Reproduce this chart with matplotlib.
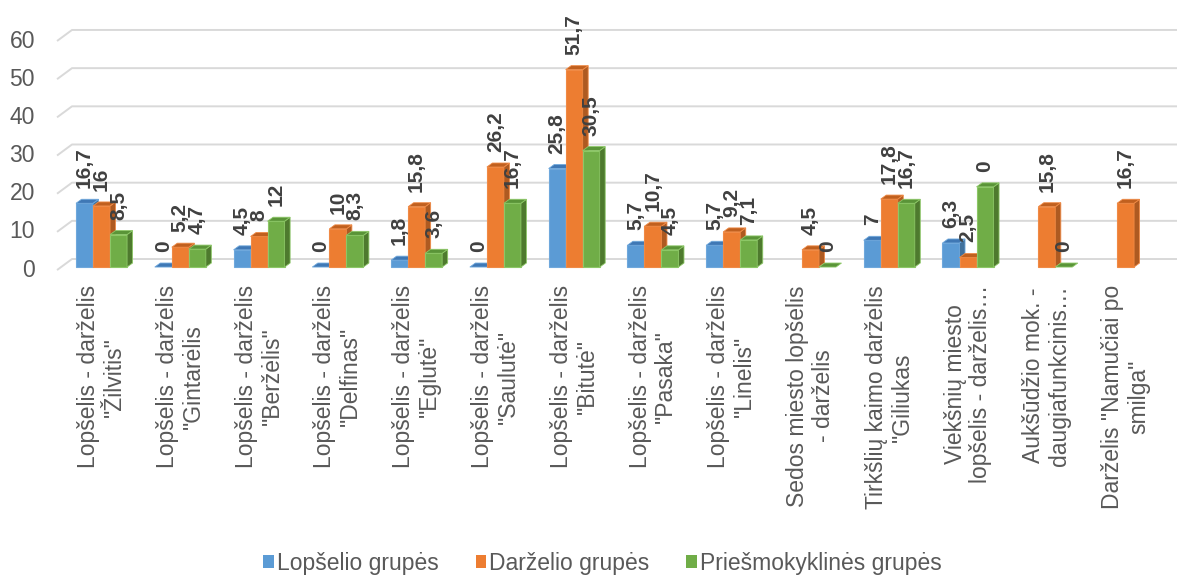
import numpy as np
import matplotlib
matplotlib.use("Agg")
import matplotlib.pyplot as plt
from matplotlib.patches import Polygon, Patch

plt.rcParams["font.family"] = ["Liberation Sans", "DejaVu Sans"]

categories = [
    'Lopšelis - darželis\n"Žilvitis"',
    'Lopšelis - darželis\n"Gintarėlis',
    'Lopšelis - darželis\n"Beržėlis"',
    'Lopšelis - darželis\n"Delfinas"',
    'Lopšelis - darželis\n"Eglutė"',
    'Lopšelis - darželis\n"Saulutė"',
    'Lopšelis - darželis\n"Bitutė"',
    'Lopšelis - darželis\n"Pasaka"',
    'Lopšelis - darželis\n"Linelis"',
    'Sedos miesto lopšelis\n- darželis',
    'Tirkšlių kaimo darželis\n"Giliukas',
    'Viekšnių miesto\nlopšelis - darželis…',
    'Aukšūdžio mok. -\ndaugiafunkcinis…',
    'Darželis "Namučiai po\nsmilga"',
]
nan = np.nan
lopselio = [16.7, 0, 4.5, 0, 1.8, 0, 25.8, 5.7, 5.7, nan, 7, 6.3, nan, nan]
darzelio = [16, 5.2, 8, 10, 15.8, 26.2, 51.7, 10.7, 9.2, 4.5, 17.8, 2.5, 15.8, 16.7]
priesm = [8.5, 4.7, 12, 8.3, 3.6, 16.7, 30.5, 4.5, 7.1, 0, 16.7, 21, 0, nan]

lopselio_labels = ["16,7", "0", "4,5", "0", "1,8", "0", "25,8", "5,7", "5,7", "", "7", "6,3", "", ""]
darzelio_labels = ["16", "5,2", "8", "10", "15,8", "26,2", "51,7", "10,7", "9,2", "4,5", "17,8", "2,5", "15,8", "16,7"]
priesm_labels = ["8,5", "4,7", "12", "8,3", "3,6", "16,7", "30,5", "4,5", "7,1", "0", "16,7", "0", "0", ""]

series_names = ["Lopšelio grupės", "Darželio grupės", "Priešmokyklinės grupės"]
y_ticks = [0, 10, 20, 30, 40, 50, 60]

# front / top / side colours of the fake 3d columns
colors = [("#5B9BD5", "#3F78B5", "#41719C"),
          ("#ED7D31", "#C0601F", "#AE5A21"),
          ("#70AD47", "#5A9438", "#4E7A2E")]
edges = ["#6FA8DC", "#F08A45", "#8CC766"]

TEXT = "#595959"
LABEL = "#404040"
GRID = "#D9D9D9"

width = 0.216
depth_x = 0.07
depth_y = 1.05


def draw_column(ax, x0, h, cols, edge):
    front, top, side = cols
    if h > 0:
        ax.add_patch(Polygon([(x0, 0), (x0 + width, 0), (x0 + width, h), (x0, h)],
                             closed=True, facecolor=front, edgecolor=edge, lw=0.8, zorder=3))
        ax.add_patch(Polygon([(x0 + width, 0), (x0 + width + depth_x, depth_y),
                              (x0 + width + depth_x, h + depth_y), (x0 + width, h)],
                             closed=True, facecolor=side, edgecolor=edge, lw=0.6, zorder=3))
    ax.add_patch(Polygon([(x0, h), (x0 + width, h), (x0 + width + depth_x, h + depth_y),
                          (x0 + depth_x, h + depth_y)],
                         closed=True, facecolor=top, edgecolor=edge, lw=0.6, zorder=3))


def main():
    fig = plt.figure(figsize=(11.77, 5.77), dpi=100)
    ax = fig.add_axes([0, 0.5147, 1, 0.4853])
    ax.set_xlim(-1.289, 13.653)
    ax.set_ylim(-3.4, 69.95)
    for s in ax.spines.values():
        s.set_visible(False)
    ax.set_yticks([])

    # gridlines on the back wall with the little diagonal at the left
    for v in y_ticks:
        ax.plot([-0.565, -0.375, 13.653], [v - 0.79, v + 2.1, v + 2.1],
                color=GRID, lw=1.4, zorder=1, solid_capstyle="butt")
        ax.text(35 / 1177, v - 0.8, str(v), transform=ax.get_yaxis_transform(),
                ha="right", va="center", fontsize=16.5, color=TEXT)

    x = np.arange(len(categories))
    all_vals = [lopselio, darzelio, priesm]
    all_labels = [lopselio_labels, darzelio_labels, priesm_labels]
    for i in x:
        for k in range(3):
            h = all_vals[k][i]
            if np.isnan(h):
                continue
            x0 = i + (k - 1) * width - width / 2
            draw_column(ax, x0, h, colors[k], edges[k])
            ax.annotate(all_labels[k][i], (x0 + width / 2, h), xytext=(0, 10.8),
                        textcoords="offset points", rotation=90, ha="center", va="bottom",
                        fontsize=15, fontweight="bold", color=LABEL, zorder=5,
                        annotation_clip=False)

    ax.set_xticks(x)
    ax.set_xticklabels(categories, rotation=90, fontsize=16.5, color=TEXT,
                       multialignment="center", linespacing=1.15)
    ax.tick_params(axis="x", length=0, pad=3.6)

    handles = [Patch(facecolor=c[0], edgecolor="none") for c in colors]
    fig.legend(handles, series_names, loc="center", bbox_to_anchor=(0.512, 0.024),
               ncol=3, frameon=False, fontsize=16.5, labelcolor=TEXT,
               handlelength=0.45, handleheight=0.45, handletextpad=0.15,
               columnspacing=1.6, borderaxespad=0)

    fig.savefig("out.png", dpi=100, facecolor="white")


if __name__ == "__main__":
    main()
